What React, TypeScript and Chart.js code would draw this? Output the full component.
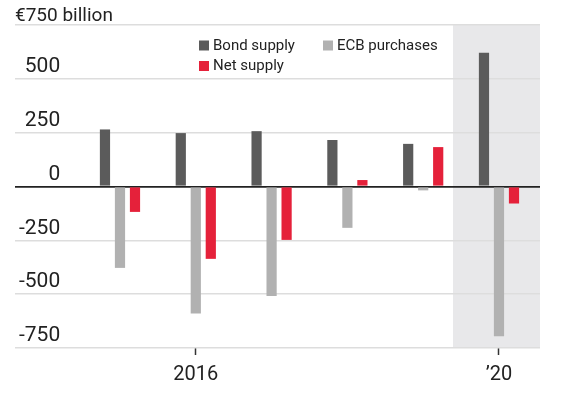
import React, { useEffect, useRef } from 'react';
import { Chart, registerables } from 'chart.js';

Chart.register(...registerables);

// ---- data ----
const years = ['2015', '2016', '2017', '2018', '2019', '2020'];
const bondSupply = [265, 248, 257, 216, 198, 621];
const ecbPurchases = [-378, -590, -508, -192, -18, -695];
const netSupply = [-118, -336, -248, 30, 183, -79];
const yTickValues = [-750, -500, -250, 0, 250, 500, 750];
const yTopLabel = '€750 billion';
const xTickLabels: Record<string, string> = { '2016': '2016', '2020': '\u201920' };
const shadedYear = '2020';
const seriesNames = ['Bond supply', 'ECB purchases', 'Net supply'];
const seriesColors = ['#5b5b5b', '#b1b1b1', '#e5213a'];

const FONT = 'Roboto';
const TEXT = '#222222';

const shadePlugin = {
  id: 'shadeRegion',
  beforeDraw(chart: any) {
    const { ctx, chartArea, scales } = chart;
    const idx = years.indexOf(shadedYear);
    const x0 = scales.x.getPixelForValue(idx - 0.607);
    ctx.save();
    ctx.fillStyle = '#e8e8ea';
    ctx.fillRect(x0, chartArea.top, chartArea.right - x0, chartArea.bottom - chartArea.top);
    ctx.restore();
  },
};

const legendPlugin = {
  id: 'gridLegend',
  afterDatasetsDraw(chart: any) {
    const { ctx, chartArea } = chart;
    const baseX = chartArea.left + 184;
    const baseY = chartArea.top + 20.5;
    const colW = 124;
    const rowH = 20.5;
    ctx.save();
    ctx.font = `15px ${FONT}`;
    ctx.textBaseline = 'middle';
    ctx.textAlign = 'left';
    chart.data.datasets.forEach((ds: any, i: number) => {
      const col = i % 2;
      const row = Math.floor(i / 2);
      const x = baseX + col * colW;
      const y = baseY + row * rowH;
      ctx.fillStyle = ds.backgroundColor;
      ctx.fillRect(x, y - 5, 10, 10);
      ctx.fillStyle = TEXT;
      ctx.fillText(ds.label, x + 14, y + 0.5);
    });
    ctx.restore();
  },
};

export default function App() {
  const ref = useRef<HTMLCanvasElement | null>(null);

  useEffect(() => {
    if (!ref.current) return;
    const mk = (vals: number[]) => vals.map((v, i) => ({ x: i, y: v }));
    const series = [bondSupply, ecbPurchases, netSupply];
    const chart = new Chart(ref.current, {
      type: 'bar',
      data: {
        datasets: series.map((s, i) => ({
          label: seriesNames[i],
          data: mk(s),
          backgroundColor: seriesColors[i],
          borderWidth: 0,
          categoryPercentage: 0.594,
          barPercentage: 0.68,
        })),
      },
      options: {
        responsive: false,
        animation: false,
        layout: { padding: { left: 15, right: 29, top: 0, bottom: 0 } },
        plugins: {
          legend: { display: false },
          tooltip: { enabled: false },
          title: {
            display: true,
            text: yTopLabel,
            align: 'start',
            color: TEXT,
            font: { family: FONT, size: 19, weight: 'normal', lineHeight: 1 },
            padding: { top: 7, bottom: -1 },
          },
        },
        scales: {
          x: {
            type: 'linear',
            min: -1.385,
            max: 5.541,
            offset: false,
            bounds: 'data',
            border: { display: false },
            grid: {
              offset: false,
              drawOnChartArea: false,
              drawTicks: true,
              tickLength: 7,
              tickColor: '#333',
              tickWidth: 1.5,
            },
            afterBuildTicks: (axis: any) => {
              axis.ticks = years
                .map((y, i) => ({ y, i }))
                .filter((o) => xTickLabels[o.y] !== undefined)
                .map((o) => ({ value: o.i }));
            },
            ticks: {
              color: TEXT,
              padding: 8,
              font: { family: FONT, size: 20 },
              maxRotation: 0,
              autoSkip: false,
              callback: (v: any) => xTickLabels[years[Number(v)]] ?? '',
            },
          },
          y: {
            type: 'linear',
            min: yTickValues[0],
            max: yTickValues[yTickValues.length - 1],
            border: { display: false },
            afterBuildTicks: (axis: any) => {
              axis.ticks = yTickValues.map((v) => ({ value: v }));
            },
            grid: {
              drawTicks: true,
              tickLength: -8,
              tickColor: 'rgba(0,0,0,0)',
              color: (c: any) => (c.tick && c.tick.value === 0 ? '#222' : '#dddddd'),
              lineWidth: (c: any) => (c.tick && c.tick.value === 0 ? 1.8 : 1.5),
            },
            ticks: {
              mirror: true,
              crossAlign: 'far',
              padding: 4,
              labelOffset: -12,
              color: TEXT,
              font: { family: FONT, size: 21 },
              callback: (v: any) => (Number(v) === yTickValues[yTickValues.length - 1] ? '' : String(v)),
            },
          },
        },
      },
      plugins: [shadePlugin, legendPlugin],
    } as any);
    return () => chart.destroy();
  }, []);

  return (
    <div style={{ position: 'fixed', left: 0, top: 0, width: 569, height: 395, background: '#fff' }}>
      <canvas ref={ref} width={569} height={395} style={{ display: 'block' }} />
    </div>
  );
}
